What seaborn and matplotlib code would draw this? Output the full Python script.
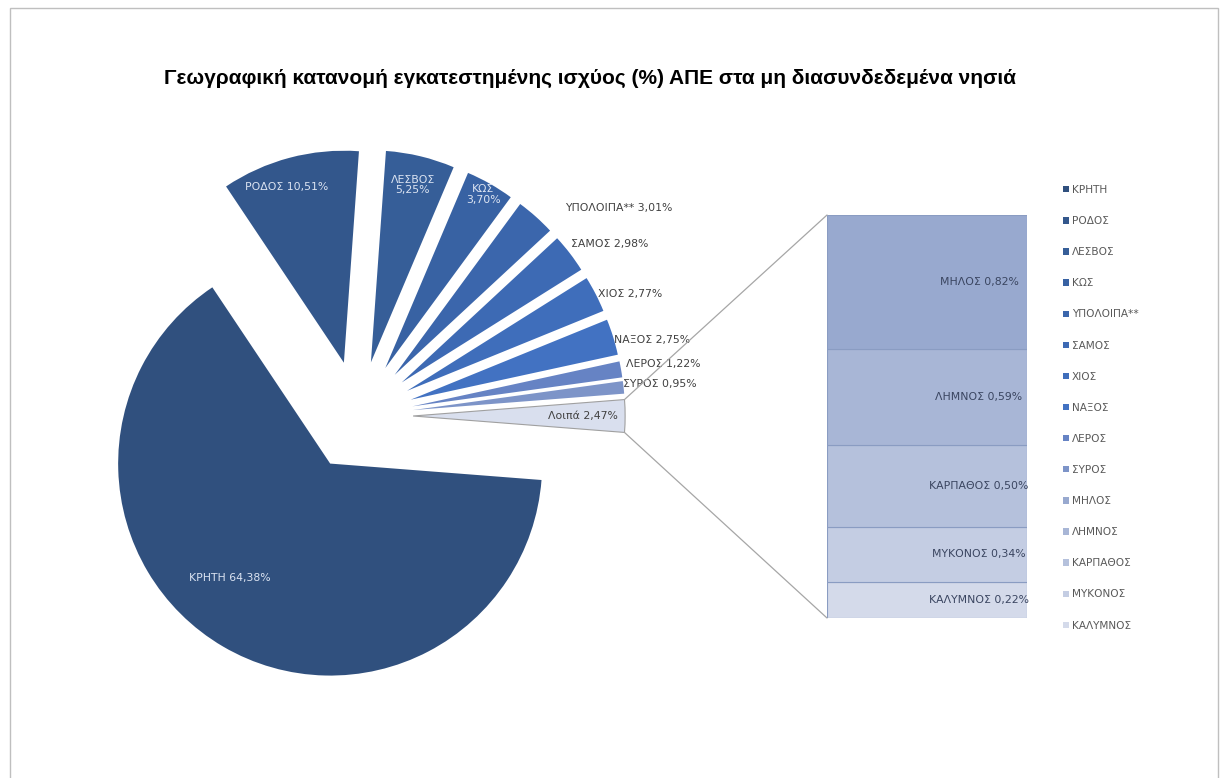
import numpy as np
import matplotlib
matplotlib.use("Agg")
import matplotlib.pyplot as plt
from matplotlib.patches import Patch, Rectangle, ConnectionPatch
import seaborn as sns

# --- data -----------------------------------------------------------------
title = "Γεωγραφική κατανομή εγκατεστημένης ισχύος (%) ΑΠΕ στα μη διασυνδεδεμένα νησιά"

islands = ["ΚΡΗΤΗ", "ΡΟΔΟΣ", "ΛΕΣΒΟΣ", "ΚΩΣ", "ΥΠΟΛΟΙΠΑ**", "ΣΑΜΟΣ",
           "ΧΙΟΣ", "ΝΑΞΟΣ", "ΛΕΡΟΣ", "ΣΥΡΟΣ"]
island_share = [64.38, 10.51, 5.25, 3.70, 3.01, 2.98, 2.77, 2.75, 1.22, 0.95]

other_label = "Λοιπά"
small_islands = ["ΜΗΛΟΣ", "ΛΗΜΝΟΣ", "ΚΑΡΠΑΘΟΣ", "ΜΥΚΟΝΟΣ", "ΚΑΛΥΜΝΟΣ"]
small_share = [0.82, 0.59, 0.50, 0.34, 0.22]

# --- styling --------------------------------------------------------------
island_colors = ["#30507E", "#33578C", "#365E98", "#3862A3", "#3B66AC",
                 "#3D6AB4", "#3F6EBB", "#4272C2", "#6683C4", "#7D94C8"]
other_color = "#D9DFEE"
small_colors = ["#98A9CF", "#A8B6D6", "#B5C1DC", "#C4CDE3", "#D4DAEA"]

sns.set_theme(style="white")
plt.rcParams["font.family"] = ["DejaVu Sans"]

W, H = 1224, 778
fig = plt.figure(figsize=(W / 100, H / 100), dpi=100)
fig.patch.set_facecolor("white")

def fmt(name, v):
    return f"{name} {v:.2f}%".replace(".", ",")

# --- main pie (axes in pixel units) ----------------------------------------
ax = fig.add_axes([0, 0, 1, 1])
other_total = round(sum(small_share), 2)
pie_values = island_share + [other_total]
pie_colors = island_colors + [other_color]
start = -other_total / sum(pie_values) * 360 / 2
radius = 212

wedges, _ = ax.pie(pie_values, colors=pie_colors, explode=[0.26 * radius] * len(pie_values),
                   radius=radius, center=(358, 362), startangle=start,
                   counterclock=False, wedgeprops=dict(linewidth=0))
other_wedge = wedges[-1]
other_wedge.set_edgecolor("#A0A0A0")
other_wedge.set_linewidth(0.8)

ax.set_xlim(0, W)
ax.set_ylim(0, H)
ax.set_aspect("equal")
ax.axis("off")

# label placement: (fraction of radius from wedge apex, direction in degrees, align, colour)
light, dark = "#DCE4F2", "#404040"
label_layout = [
    (0.72, 228.7, "center", light),
    (0.87, 108.0, "center", light),
    (0.86, 76.7, "center", light),
    (0.94, 60.6, "center", light),
    (1.125, 44.4, "left", dark),
    (1.03, 39.3, "left", dark),
    (1.01, 26.9, "left", dark),
    (1.00, 16.35, "left", dark),
    (1.03, 11.2, "left", dark),
    (1.00, 7.0, "left", dark),
    (0.80, 0.0, "center", dark),
]
pie_names = islands + [other_label]
two_line = {"ΛΕΣΒΟΣ", "ΚΩΣ"}
for w, name, v, (frac, ang, ha, col) in zip(wedges, pie_names, pie_values, label_layout):
    cx, cy = w.center
    a = np.deg2rad(ang)
    x = cx + frac * w.r * np.cos(a)
    y = cy + frac * w.r * np.sin(a)
    txt = fmt(name, v)
    if name in two_line:
        txt = txt.replace(" ", "\n")
    ax.text(x, y, txt, ha=ha, va="center", color=col, fontsize=7.8,
            linespacing=1.05, multialignment="center")

# --- bar of the remaining islands -----------------------------------------
bax = fig.add_axes([827 / W, 160 / H, 200 / W, 403 / H])
bottom = 0.0
for name, v, c in reversed(list(zip(small_islands, small_share, small_colors))):
    bax.bar(0, v, bottom=bottom, width=1.0, color=c, edgecolor="#8A9CC2", linewidth=0.8)
    bax.text(0.26, bottom + v / 2, fmt(name, v), ha="center", va="center",
             color="#3A4560", fontsize=7.8)
    bottom += v
bax.set_xlim(-0.5, 0.5)
bax.set_ylim(0, other_total)
bax.axis("off")

# connector lines from the "other" slice to the bar
cx, cy = other_wedge.center
for th, yb in ((other_wedge.theta2, other_total), (other_wedge.theta1, 0.0)):
    t = np.deg2rad(th)
    p = (cx + other_wedge.r * np.cos(t), cy + other_wedge.r * np.sin(t))
    con = ConnectionPatch(xyA=p, coordsA=ax.transData, xyB=(-0.5, yb),
                          coordsB=bax.transData, color="#A6A6A6", linewidth=0.9)
    fig.add_artist(con)

# --- legend ----------------------------------------------------------------
handles = [Patch(facecolor=c, edgecolor="none") for c in island_colors + small_colors]
fig.legend(handles, islands + small_islands, loc="upper left",
           bbox_to_anchor=(1063 / W, 1 - 185 / H), frameon=False,
           fontsize=7.6, labelcolor="#595959", handlelength=0.55, handleheight=0.55,
           handletextpad=0.3, labelspacing=2.0, borderpad=0, borderaxespad=0)

# --- title and frame -------------------------------------------------------
fig.text(590 / W, 1 - 78 / H, title, ha="center", va="center", fontsize=15,
         fontweight="bold", color="#000000", family=["Liberation Sans", "DejaVu Sans"])
fig.add_artist(Rectangle((10 / W, -0.02), 1208 / W, 1 - 8 / H + 0.02,
                         transform=fig.transFigure, fill=False,
                         edgecolor="#BFBFBF", linewidth=1.0))

fig.savefig("out.png", dpi=100, facecolor="white")
